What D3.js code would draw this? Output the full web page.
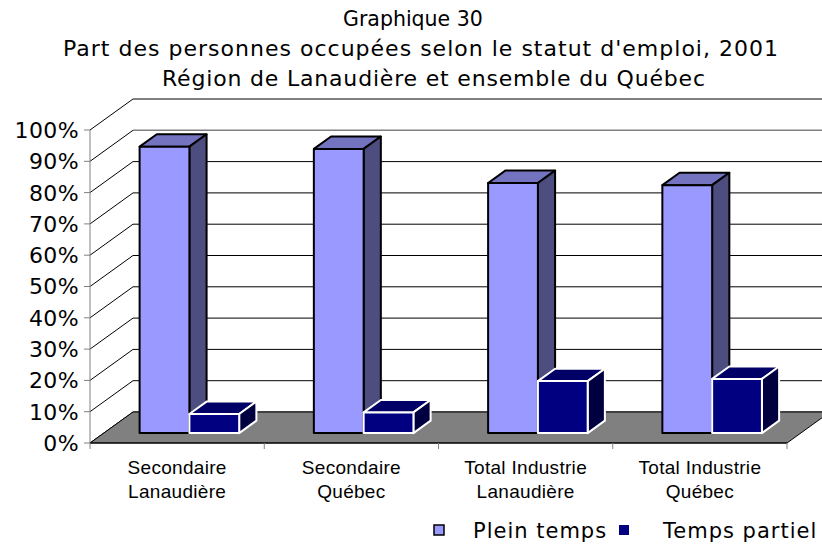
<!DOCTYPE html>
<html><head><meta charset="utf-8">
<script src="https://cdn.jsdelivr.net/npm/d3@7"></script>
<style>body{margin:0;background:#fff}svg{display:block}</style>
</head><body>
<svg id="c" width="822" height="548"></svg>
<script>
const titleLines = ["Graphique 30","Part des personnes occupées selon le statut d'emploi, 2001","Région de Lanaudière et ensemble du Québec"];
const categories = [["Secondaire","Lanaudière"],["Secondaire","Québec"],["Total Industrie","Lanaudière"],["Total Industrie","Québec"]];
const seriesNames = ["Plein temps","Temps partiel"];
const pleinTemps = [91.5, 90.8, 79.9, 79.2];
const tempsPartiel = [6.1, 6.6, 16.6, 17.3];
const yTicks = [0,10,20,30,40,50,60,70,80,90,100];

const svg = d3.select("#c");
const DX = 43, DY = -31;           // full depth offset
const T0 = 0.32, T1 = 0.72;        // bar depth range
const x = d3.scaleBand().domain(d3.range(categories.length)).range([90, 787]).padding(0);
const y = d3.scaleLinear().domain([0, 100]).range([443, 130]);
const bw = x.bandwidth() / 3.5;

// title
const tx = [343, 63, 162], tw = [null, 715, 543], tfs = [20.5, 22, 22];
svg.selectAll("text.title").data(titleLines).join("text").attr("class","title")
  .attr("x",(d,i)=>tx[i]).attr("y",(d,i)=>26+i*30).attr("text-anchor","start")
  .attr("textLength",(d,i)=>tw[i]).attr("lengthAdjust","spacing")
  .attr("font-family","DejaVu Sans").attr("font-size",(d,i)=>tfs[i]).attr("fill","#000").text(d=>d);

// back wall gridlines
svg.selectAll("line.bg").data(yTicks).join("line").attr("class","bg")
  .attr("x1",90+DX).attr("x2",822+DX).attr("y1",d=>y(d)+DY).attr("y2",d=>y(d)+DY)
  .attr("stroke",d=>d===90?"#808080":"#000").attr("stroke-width",d=>d===90?1.5:1);
// side wall diagonals
svg.selectAll("line.sg").data(yTicks).join("line").attr("class","sg")
  .attr("x1",90).attr("y1",d=>y(d)).attr("x2",90+DX).attr("y2",d=>y(d)+DY)
  .attr("stroke","#000").attr("stroke-width",1);

// floor
const x0 = x.range()[0], x1 = x.range()[1], yf = y(0);
svg.append("polygon")
  .attr("points",[[x0,yf],[x1,yf],[x1+DX,yf+DY],[x0+DX,yf+DY]].map(p=>p.join(",")).join(" "))
  .attr("fill","#808080").attr("stroke","#000").attr("stroke-width",1);

// y axis
svg.append("line").attr("x1",90).attr("x2",90).attr("y1",y(100)).attr("y2",y(0)).attr("stroke","#808080");
svg.selectAll("line.yt").data(yTicks).join("line").attr("class","yt")
  .attr("x1",84).attr("x2",90).attr("y1",d=>y(d)).attr("y2",d=>y(d)).attr("stroke","#808080");
svg.selectAll("text.yl").data(yTicks).join("text").attr("class","yl")
  .attr("x",79).attr("y",d=>y(d)).attr("dy","0.36em").attr("text-anchor","end")
  .attr("font-family","DejaVu Sans").attr("font-size",22).attr("letter-spacing",0.4).text(d=>d+"%");

// x axis
svg.append("line").attr("x1",x0).attr("x2",x1).attr("y1",yf).attr("y2",yf).attr("stroke","#000");
const xt = d3.range(categories.length+1).map(i=> i<categories.length ? x(i) : x1);
svg.selectAll("line.xt").data(xt).join("line").attr("class","xt")
  .attr("x1",d=>d).attr("x2",d=>d).attr("y1",yf).attr("y2",yf+6).attr("stroke","#808080");
const xl = svg.selectAll("text.xl").data(categories).join("text").attr("class","xl")
  .attr("font-family","Liberation Sans").attr("font-size",19).attr("letter-spacing",0.3).attr("text-anchor","middle");
xl.selectAll("tspan").data((d,i)=>d.map(s=>({s,i}))).join("tspan")
  .attr("x",d=>x(d.i)+x.bandwidth()/2).attr("y",(d,j)=>474+j*24).text(d=>d.s);

// bars
const styles = [
  {front:"#9999FF", top:"#7373C0", side:"#4D4D80", stroke:"#000"},
  {front:"#000080", top:"#000066", side:"#000040", stroke:"#fff"}
];
const series = [pleinTemps, tempsPartiel];
const bx = DX*T0, by = DY*T0, ddx = DX*(T1-T0), ddy = DY*(T1-T0);
categories.forEach((c,i)=>{
  series.forEach((vals,s)=>{
    const st = styles[s];
    const xa = x(i) + 0.72*bw + s*bw + bx;
    const xb = xa + bw;
    const yb = y(0) + by, yt = y(vals[i]) + by;
    const g = svg.append("g").attr("stroke",st.stroke).attr("stroke-width",2).attr("stroke-linejoin","round");
    g.append("polygon").attr("points",[[xa,yt],[xb,yt],[xb+ddx,yt+ddy],[xa+ddx,yt+ddy]].map(p=>p.join(",")).join(" ")).attr("fill",st.top);
    g.append("polygon").attr("points",[[xb,yt],[xb+ddx,yt+ddy],[xb+ddx,yb+ddy],[xb,yb]].map(p=>p.join(",")).join(" ")).attr("fill",st.side);
    g.append("rect").attr("x",xa).attr("y",yt).attr("width",bw).attr("height",yb-yt).attr("fill",st.front);
  });
});

// legend
const lx = [434, 619], ltx = [473, 663];
seriesNames.forEach((n,i)=>{
  svg.append("rect").attr("x",lx[i]).attr("y",525).attr("width",10).attr("height",10)
    .attr("fill",styles[i].front).attr("stroke",i===0?"#000":"none").attr("stroke-width",1.5);
  svg.append("text").attr("x",ltx[i]).attr("y",538).attr("font-family","DejaVu Sans").attr("font-size",21)
    .attr("letter-spacing",1.0).text(n);
});
</script>
</body></html>
